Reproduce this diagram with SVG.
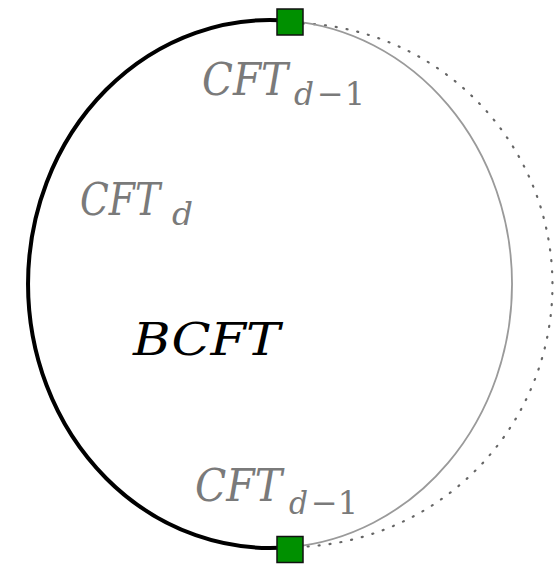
<svg xmlns="http://www.w3.org/2000/svg" width="554" height="564" viewBox="0 0 554 564">
  <style>
    .lbl { font-family: "DejaVu Serif", "Liberation Serif", serif; font-style: italic; }
    .grey { fill: #7a7a7a; }
    .up { font-style: normal; }
  </style>
  <rect width="554" height="564" fill="#ffffff"/>

  <!-- connectors: boundary arcs of the region -->
  <g id="connectors" fill="none">
    <!-- outer dotted arc joining the two endpoints -->
    <path d="M303,23.3 A262,262 0 0 1 303,546.7" stroke="#666" stroke-width="2.2" stroke-linecap="round" stroke-dasharray="1 10"/>
    <!-- thin grey boundary on the right -->
    <path d="M290,20.9 A242,264 0 0 1 290,547.1" stroke="#9a9a9a" stroke-width="1.8"/>
    <!-- thick black boundary on the left -->
    <path d="M290,20.9 A242,264 0 1 0 290,547.1" stroke="#000" stroke-width="4"/>
  </g>

  <!-- endpoint markers -->
  <g id="node-top">
    <rect x="277" y="9" width="26" height="26" fill="#009000" stroke="#111" stroke-width="1.5"/>
  </g>
  <g id="node-bottom">
    <rect x="277" y="536.5" width="26" height="26" fill="#009000" stroke="#111" stroke-width="1.5"/>
  </g>

  <!-- labels: main symbol with subscript tspans -->
  <g id="label-top" class="lbl grey">
    <text x="202" y="95" font-size="44"><tspan textLength="86" lengthAdjust="spacingAndGlyphs">CFT</tspan><tspan x="294" y="105" font-size="32" textLength="20" lengthAdjust="spacingAndGlyphs">d</tspan><tspan class="up" x="317" y="105" font-size="32" textLength="48" lengthAdjust="spacing">−1</tspan></text>
  </g>
  <g id="label-left" class="lbl grey">
    <text x="80" y="215" font-size="44"><tspan textLength="80" lengthAdjust="spacingAndGlyphs">CFT</tspan><tspan x="172" y="225" font-size="32" textLength="21" lengthAdjust="spacingAndGlyphs">d</tspan></text>
  </g>
  <g id="label-bcft" class="lbl">
    <text x="133" y="355" font-size="45" fill="#000" textLength="147" lengthAdjust="spacingAndGlyphs">BCFT</text>
  </g>
  <g id="label-bottom" class="lbl grey">
    <text x="195" y="501" font-size="44"><tspan textLength="87" lengthAdjust="spacingAndGlyphs">CFT</tspan><tspan x="289" y="514" font-size="32" textLength="19" lengthAdjust="spacingAndGlyphs">d</tspan><tspan class="up" x="311" y="514" font-size="32" textLength="47" lengthAdjust="spacing">−1</tspan></text>
  </g>
</svg>
